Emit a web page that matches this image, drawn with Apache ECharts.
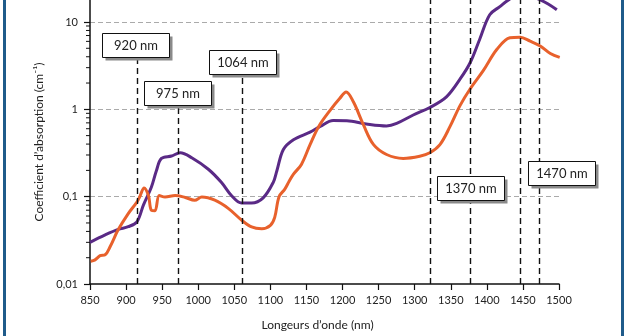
<!DOCTYPE html>
<html>
<head>
<meta charset="utf-8">
<script src="https://cdn.jsdelivr.net/npm/echarts@6/dist/echarts.min.js"></script>
<style>
html,body{margin:0;padding:0;background:#fff;}
#chart{width:628px;height:336px;}
</style>
</head>
<body>
<div id="chart"></div>
<script>
// ---- data ----
const purpleNm  = [850, 871, 889, 903, 915, 924, 935, 942, 949, 963, 975, 991, 1014, 1032, 1046, 1060, 1074, 1090, 1104, 1109, 1118, 1132, 1155, 1169, 1187, 1206, 1233, 1261, 1275, 1298, 1321, 1344, 1363, 1377, 1390, 1404, 1418, 1430, 1445, 1460, 1474, 1485, 1497];
const purpleVal = [0.030, 0.0365, 0.0422, 0.0453, 0.0515, 0.080, 0.128, 0.198, 0.274, 0.292, 0.318, 0.279, 0.206, 0.146, 0.103, 0.0845, 0.0845, 0.097, 0.146, 0.198, 0.347, 0.449, 0.548, 0.637, 0.743, 0.74, 0.68, 0.646, 0.69, 0.861, 1.05, 1.39, 2.23, 3.44, 6.31, 12.1, 15.0, 17.9, 21.0, 20.0, 17.9, 16.1, 13.8];

const orangeNm  = [851, 857, 864, 871, 878, 889, 903, 915, 919, 925, 931, 935, 940, 946, 954, 968, 982, 995, 1005, 1023, 1042, 1060, 1074, 1088, 1100, 1106, 1112, 1120, 1126, 1132, 1143, 1155, 1167, 1183, 1196, 1205, 1215, 1229, 1243, 1261, 1284, 1307, 1321, 1335, 1349, 1363, 1377, 1395, 1414, 1432, 1446, 1460, 1474, 1488, 1501];
const orangeVal = [0.0182, 0.0189, 0.0211, 0.0216, 0.0269, 0.0417, 0.064, 0.0867, 0.100, 0.126, 0.103, 0.070, 0.069, 0.103, 0.099, 0.103, 0.098, 0.091, 0.099, 0.091, 0.073, 0.054, 0.045, 0.043, 0.047, 0.058, 0.100, 0.122, 0.150, 0.181, 0.234, 0.394, 0.637, 0.98, 1.33, 1.58, 1.22, 0.663, 0.394, 0.304, 0.274, 0.29, 0.318, 0.394, 0.637, 1.11, 1.72, 2.77, 4.87, 6.6, 6.7, 6.04, 5.31, 4.35, 3.93];

// vertical dashed reference lines: wavelength and top value
const refLineNm  = [915, 973, 1061, 1321, 1377, 1446, 1473];
const refLineTop = [3.95, 1.14, 2.61, 17.86, 17.86, 17.86, 17.86];

// annotation boxes (centre in data coordinates)
const boxText = ['920 nm', '975 nm', '1064 nm', '1370 nm', '1470 nm'];
const boxNm   = [913, 971, 1061, 1377, 1503];
const boxVal  = [5.4, 1.53, 3.52, 0.1265, 0.189];

// axis ticks / ranges
const xTicks = [850, 900, 950, 1000, 1050, 1100, 1150, 1200, 1250, 1300, 1350, 1400, 1450, 1500];
const yMin = 0.01, yMax = 17.86;   // top of the visible (cropped) plot
const yMinorTicks = [0.02,0.03,0.04,0.05,0.06,0.07,0.08,0.09,0.2,0.3,0.4,0.5,0.6,0.7,0.8,0.9,2,3,4,5,6,7,8,9];

const FONT = 'Lato';
const chart = echarts.init(document.getElementById('chart'), null, {renderer:'canvas'});

const option = {
  backgroundColor: '#fff',
  animation: false,
  textStyle: {fontFamily: FONT},
  grid: {left: 90, right: 69, top: 0, bottom: 48, containLabel: false},
  xAxis: {
    type: 'value', min: xTicks[0], max: xTicks[xTicks.length-1], interval: 50,
    name: 'Longeurs d\u2019onde (nm)', nameLocation: 'middle', nameGap: 35,
    nameTextStyle: {fontFamily: FONT, fontSize: 12, color: '#222', padding: [0, 14, 0, 0]},
    axisLine: {show: true, lineStyle: {color: '#111', width: 1.5}},
    axisTick: {show: true, length: 6, lineStyle: {color: '#111', width: 1.2}},
    axisLabel: {fontFamily: FONT, fontSize: 11, color: '#222', margin: 11, formatter: v => String(v)},
    splitLine: {show: false}
  },
  yAxis: {
    type: 'log', logBase: 10, min: yMin, max: yMax,
    name: 'Coefficient d\u2019absorption (cm\u207B\u00B9)', nameLocation: 'middle', nameGap: 37,
    nameTextStyle: {fontFamily: FONT, fontSize: 12, color: '#222'},
    axisLine: {show: true, lineStyle: {color: '#111', width: 1.5}},
    axisTick: {show: true, length: 6, lineStyle: {color: '#111', width: 1.2}},
    axisLabel: {fontFamily: FONT, fontSize: 11, color: '#222', margin: 12, showMaxLabel: false,
      formatter: v => String(+v.toPrecision(3)).replace('.', ',')},
    splitLine: {show: true, showMaxLine: false, showMinLine: false, lineStyle: {color: '#aaa', width: 1, type: [5, 3]}}
  },
  series: [
    {
      type: 'custom', name: 'minorTicks', silent: true, z: 1,
      data: yMinorTicks.map(v => [xTicks[0], v]),
      renderItem: (params, api) => {
        const p = api.coord([api.value(0), api.value(1)]);
        return {type: 'line', shape: {x1: p[0] - 4, y1: p[1], x2: p[0], y2: p[1]},
          style: {stroke: '#111', lineWidth: 1}};
      }
    },
    {
      type: 'line', name: 'violet', z: 3,
      data: purpleNm.map((x, i) => [x, purpleVal[i]]),
      smooth: 0.35, showSymbol: false, symbol: 'none',
      lineStyle: {color: '#5a2a86', width: 3},
      clip: true
    },
    {
      type: 'line', name: 'orange', z: 4,
      data: orangeNm.map((x, i) => [x, orangeVal[i]]),
      smooth: 0.35, showSymbol: false, symbol: 'none',
      lineStyle: {color: '#e8612c', width: 3},
      clip: true,
      markLine: {
        silent: true, symbol: ['none', 'none'], animation: false,
        label: {show: false},
        lineStyle: {color: '#111', width: 1.4, type: [6, 4]},
        data: refLineNm.map((x, i) => [{coord: [x, yMin]}, {coord: [x, refLineTop[i]]}])
      }
    },
    {
      type: 'custom', name: 'boxes', z: 10, clip: false, silent: true,
      data: boxText.map((t, i) => [boxNm[i], boxVal[i], i]),
      renderItem: (params, api) => {
        const p = api.coord([api.value(0), api.value(1)]);
        const w = 67, h = 24;
        const x0 = Math.round(p[0] - w / 2) + 0.5, y0 = Math.round(p[1] - h / 2) + 0.5;
        return {
          type: 'group',
          children: [
            {type: 'rect', shape: {x: x0 + 3, y: y0 + 3, width: w, height: h}, style: {fill: '#8a8a8a'}},
            {type: 'rect', shape: {x: x0, y: y0, width: w, height: h}, style: {fill: '#ffffff', stroke: '#111', lineWidth: 1}},
            {type: 'text', style: {text: boxText[api.value(2)], x: x0 + w / 2, y: y0 + h / 2,
              align: 'center', verticalAlign: 'middle', fontFamily: FONT, fontSize: 13, fill: '#222'}}
          ]
        };
      }
    }
  ],
  graphic: [
    {type: 'rect', shape: {x: 3, y: 0, width: 3, height: 336}, style: {fill: '#1f5b8a'}, z: 100},
    {type: 'rect', shape: {x: 621, y: 0, width: 3, height: 336}, style: {fill: '#1f5b8a'}, z: 100}
  ]
};
chart.setOption(option);
</script>
</body>
</html>
